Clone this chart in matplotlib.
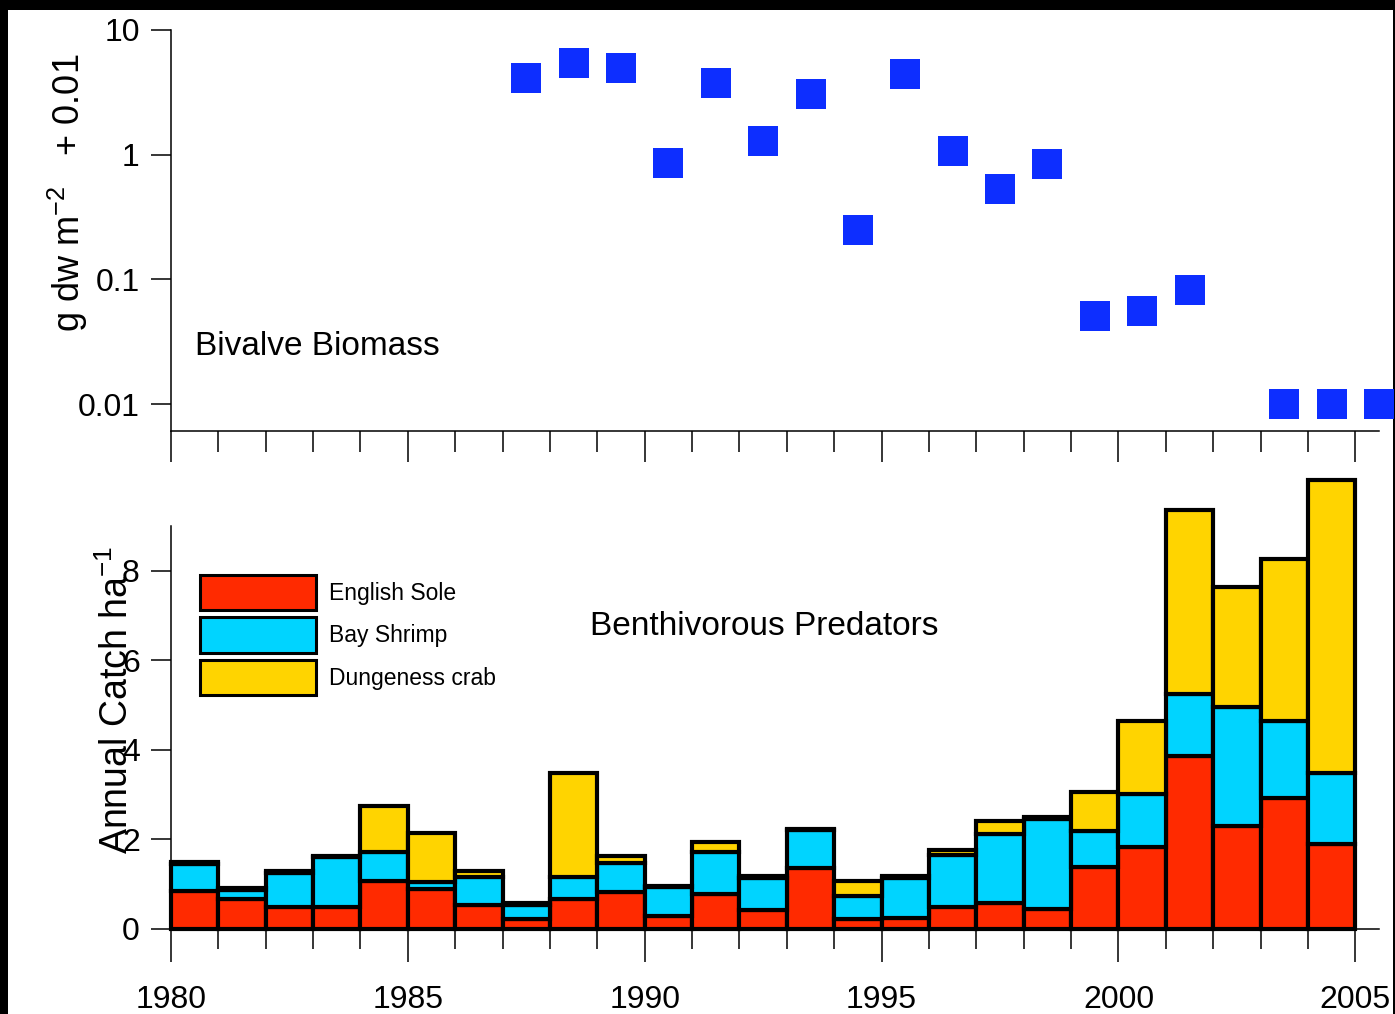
import numpy as np
import matplotlib
matplotlib.use('Agg')
import matplotlib.pyplot as plt
from matplotlib.patches import Rectangle
from matplotlib.ticker import NullLocator

plt.rcParams['font.family'] = ['Liberation Sans', 'DejaVu Sans']
plt.rcParams['mathtext.fontset'] = 'custom'
plt.rcParams['mathtext.rm'] = 'Liberation Sans'
plt.rcParams['mathtext.it'] = 'Liberation Sans'

# Bivalve biomass (g dw m-2), plotted as value + 0.01 on a log axis
bivalve_years = [1987, 1988, 1989, 1990, 1991, 1992, 1993, 1994, 1995,
                 1996, 1997, 1998, 1999, 2000, 2001, 2003, 2004, 2005]
bivalve_biomass = [4.14, 5.38, 4.97, 0.85, 3.75, 1.285, 3.03, 0.239, 4.45,
                   1.07, 0.516, 0.824, 0.041, 0.046, 0.072, 0.0, 0.0, 0.0]

# Annual catch per hectare of the benthivorous predators
catch_years = list(range(1980, 2005))
english_sole = [0.84, 0.65, 0.47, 0.49, 1.07, 0.88, 0.53, 0.21, 0.65, 0.82,
                0.29, 0.77, 0.41, 1.35, 0.21, 0.24, 0.49, 0.58, 0.44, 1.37,
                1.83, 3.86, 2.29, 2.91, 1.88]
bay_shrimp = [0.60, 0.21, 0.77, 1.10, 0.63, 0.15, 0.63, 0.32, 0.51, 0.64,
              0.64, 0.93, 0.72, 0.85, 0.52, 0.88, 1.16, 1.54, 2.01, 0.82,
              1.18, 1.39, 2.66, 1.73, 1.59]
dungeness_crab = [0.05, 0.05, 0.05, 0.04, 1.03, 1.10, 0.12, 0.05, 2.32, 0.15,
                  0.03, 0.24, 0.05, 0.02, 0.33, 0.05, 0.10, 0.29, 0.05, 0.87,
                  1.64, 4.10, 2.69, 3.62, 6.55]

year_labels = ['1980', '1985', '1990', '1995', '2000', '2005']

W, H = 1395, 1014
fig = plt.figure(figsize=(W / 100, H / 100), dpi=100, facecolor='black')
fig.patches.append(Rectangle((8 / W, 0), (1393 - 8) / W, (H - 10) / H,
                             transform=fig.transFigure, facecolor='white',
                             edgecolor='none', zorder=-10))

left = 171 / W
width = (1379 - 171) / W
ax1 = fig.add_axes([left, (H - 431) / H, width, 401 / H])
ax2 = fig.add_axes([left, (H - 928.5) / H, width, 402.5 / H])

for ax in (ax1, ax2):
    ax.patch.set_alpha(0)
    ax.spines['top'].set_visible(False)
    ax.spines['right'].set_visible(False)
    ax.spines['left'].set_linewidth(1.1)
    ax.spines['bottom'].set_linewidth(1.1)
    ax.set_xlim(1980, 2005.5)
    ax.set_xticks(range(1980, 2006, 5))
    ax.set_xticks(range(1980, 2006), minor=True)
    ax.tick_params(which='both', direction='out', width=1.1, labelsize=23,
                   top=False, right=False)

# top panel: bivalve biomass
x_biv = np.array(bivalve_years) + 0.5
y_biv = np.array(bivalve_biomass) + 0.01
ax1.plot(x_biv, y_biv, 's', color='#0D2EFF', markersize=22.3,
         markeredgewidth=0, clip_on=False, zorder=5)
ax1.set_yscale('log')
ax1.set_ylim(10 ** -2.2165, 10)
ax1.set_yticks([0.01, 0.1, 1, 10])
ax1.set_yticklabels(['0.01', '0.1', '1', '10'])
ax1.yaxis.set_minor_locator(NullLocator())
ax1.tick_params(axis='y', length=14.5, pad=8)
ax1.tick_params(axis='x', which='major', length=22.3, labelbottom=False)
ax1.tick_params(axis='x', which='minor', length=15)
ax1.text((195 - 171) / 1208, (431 - 355) / 401, 'Bivalve Biomass',
         transform=ax1.transAxes, fontsize=24, ha='left', va='baseline')
ax1.text((80 - 171) / 1208, (431 - 193) / 401, 'g dw m$^{-2}$   + 0.01',
         transform=ax1.transAxes, fontsize=26, rotation=90,
         ha='center', va='baseline', rotation_mode='anchor')

# bottom panel: stacked catch bars
bar_kw = dict(width=1.0, align='edge', edgecolor='black', linewidth=3,
              clip_on=False)
sole = np.array(english_sole)
shrimp = np.array(bay_shrimp)
crab = np.array(dungeness_crab)
ax2.bar(catch_years, sole, color='#FF2A00', label='English Sole', **bar_kw)
ax2.bar(catch_years, shrimp, bottom=sole, color='#00D4FF',
        label='Bay Shrimp', **bar_kw)
ax2.bar(catch_years, crab, bottom=sole + shrimp, color='#FFD400',
        label='Dungeness crab', **bar_kw)
ax2.set_ylim(0, 9)
ax2.set_yticks([0, 2, 4, 6, 8])
ax2.tick_params(axis='y', length=14.5, pad=8)
ax2.tick_params(axis='x', which='major', length=23.8, pad=17)
ax2.tick_params(axis='x', which='minor', length=14.4)
ax2.set_xticklabels(year_labels)
ax2.text((590 - 171) / 1208, (928.5 - 635) / 402.5, 'Benthivorous Predators',
         transform=ax2.transAxes, fontsize=24, ha='left', va='baseline')
ax2.text((128 - 171) / 1208, (928.5 - 700) / 402.5, 'Annual Catch ha$^{-1}$',
         transform=ax2.transAxes, fontsize=27, rotation=90,
         ha='center', va='baseline', rotation_mode='anchor')

leg = ax2.legend(loc='upper left',
                 bbox_to_anchor=((200 - 171) / 1208, (928.5 - 575) / 402.5),
                 frameon=False, borderpad=0, borderaxespad=0,
                 handlelength=5.05, handleheight=2.0, labelspacing=0.3,
                 handletextpad=0.6, prop={'size': 16.5})
for h in leg.legend_handles:
    h.set_linewidth(2.2)

fig.savefig('out.png', dpi=100, facecolor=fig.get_facecolor())
